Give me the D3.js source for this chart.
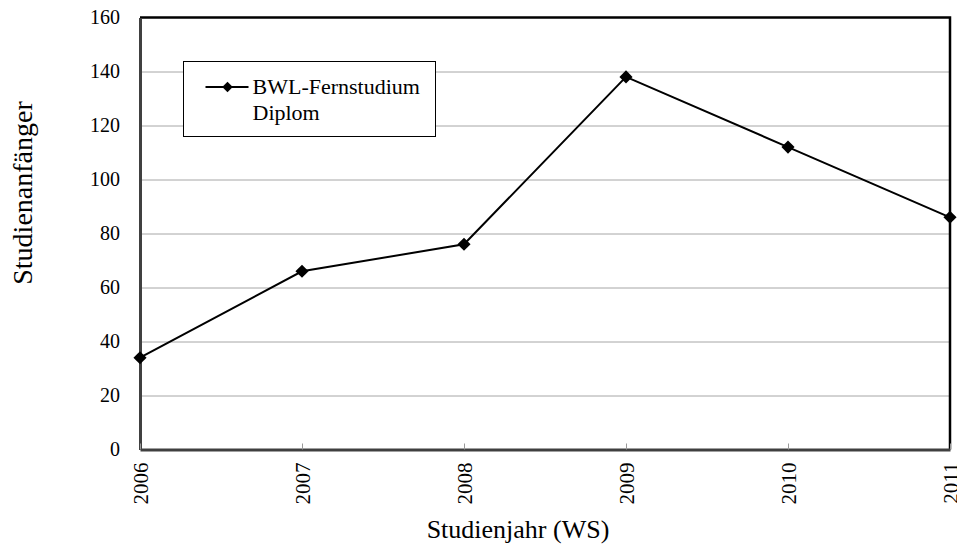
<!DOCTYPE html>
<html>
<head>
<meta charset="utf-8">
<script src="https://cdn.jsdelivr.net/npm/d3@7"></script>
<style>
    body { margin: 0; background: #fff; }
    svg, svg text { font-family: "Liberation Serif", "Times New Roman", serif !important; fill: #000; }
</style>
</head>
<body>
<div id="chart"></div>
<script>
// data
var years = ['2006', '2007', '2008', '2009', '2010', '2011'];
var starters = [34, 66, 76, 138, 112, 86];
var yTicks = [0, 20, 40, 60, 80, 100, 120, 140, 160];
var seriesName = ['BWL-Fernstudium', 'Diplom'];

var width = 957,
    height = 544,
    margin = {top: 17.5, right: 7, bottom: 94.5, left: 140},
    plotW = width - margin.left - margin.right,
    plotH = height - margin.top - margin.bottom;

var svg = d3.select('#chart').append('svg')
    .attr('width', width)
    .attr('height', height);

var g = svg.append('g')
    .attr('transform', 'translate(' + margin.left + ',' + margin.top + ')');

var x = d3.scalePoint()
    .domain(years)
    .range([0, plotW]);

var y = d3.scaleLinear()
    .domain([0, 160])
    .range([plotH, 0]);

// gridlines
g.selectAll('.grid')
    .data(yTicks.slice(1, -1))
    .enter().append('line')
    .attr('class', 'grid')
    .attr('x1', 0)
    .attr('x2', plotW)
    .attr('y1', function(d) { return Math.round(y(d)) + 0.5; })
    .attr('y2', function(d) { return Math.round(y(d)) + 0.5; })
    .attr('stroke', '#a6a6a6')
    .attr('stroke-width', 1);

// top + right border
g.append('path')
    .attr('d', 'M0,0H' + plotW + 'V' + plotH)
    .attr('fill', 'none')
    .attr('stroke', '#000')
    .attr('stroke-width', 2.5);

// y axis
var yAxis = g.append('g')
    .call(d3.axisLeft(y).tickValues(yTicks).tickSize(0).tickPadding(20));
yAxis.attr('font-family', null);
yAxis.select('.domain').attr('stroke', '#404040').attr('stroke-width', 3);
yAxis.selectAll('text')
    .style('font-size', '20px');

// x axis
var xAxis = g.append('g')
    .attr('transform', 'translate(0,' + plotH + ')')
    .call(d3.axisBottom(x).tickSizeInner(-6).tickSizeOuter(0).tickPadding(0));
xAxis.attr('font-family', null);
xAxis.select('.domain').attr('stroke', '#404040').attr('stroke-width', 3);
xAxis.selectAll('.tick line').attr('stroke', '#999');
xAxis.selectAll('text')
    .style('font-size', '21px')
    .attr('text-anchor', 'end')
    .attr('transform', 'rotate(-90)')
    .attr('x', -13)
    .attr('y', 0)
    .attr('dy', '0.35em');

// line
var line = d3.line()
    .x(function(d, i) { return x(years[i]); })
    .y(function(d) { return y(d); });

g.append('path')
    .datum(starters)
    .attr('d', line)
    .attr('fill', 'none')
    .attr('stroke', '#000')
    .attr('stroke-width', 2);

var diamond = d3.symbol().type(d3.symbolDiamond2).size(110);

g.selectAll('.pt')
    .data(starters)
    .enter().append('path')
    .attr('class', 'pt')
    .attr('d', diamond)
    .attr('transform', function(d, i) { return 'translate(' + x(years[i]) + ',' + y(d) + ')'; })
    .attr('fill', '#000');

// legend
var legend = svg.append('g').attr('transform', 'translate(183.5,61.5)');
legend.append('rect')
    .attr('width', 252)
    .attr('height', 75)
    .attr('fill', '#fff')
    .attr('stroke', '#000')
    .attr('stroke-width', 1);
legend.append('line')
    .attr('x1', 22).attr('x2', 65)
    .attr('y1', 25.5).attr('y2', 25.5)
    .attr('stroke', '#000')
    .attr('stroke-width', 2);
legend.append('path')
    .attr('d', d3.symbol().type(d3.symbolDiamond2).size(70))
    .attr('transform', 'translate(44,25.5)')
    .attr('fill', '#000');
legend.selectAll('.lt')
    .data(seriesName)
    .enter().append('text')
    .attr('class', 'lt')
    .attr('x', 69)
    .attr('y', function(d, i) { return 32 + i * 26; })
    .style('font-size', '22px')
    .text(function(d) { return d; });

// axis titles
svg.append('text')
    .attr('transform', 'translate(32,193) rotate(-90)')
    .attr('text-anchor', 'middle')
    .style('font-size', '28px')
    .text('Studienanfänger');

svg.append('text')
    .attr('x', 518)
    .attr('y', 538)
    .attr('text-anchor', 'middle')
    .style('font-size', '26px')
    .text('Studienjahr (WS)');
</script>
</body>
</html>
